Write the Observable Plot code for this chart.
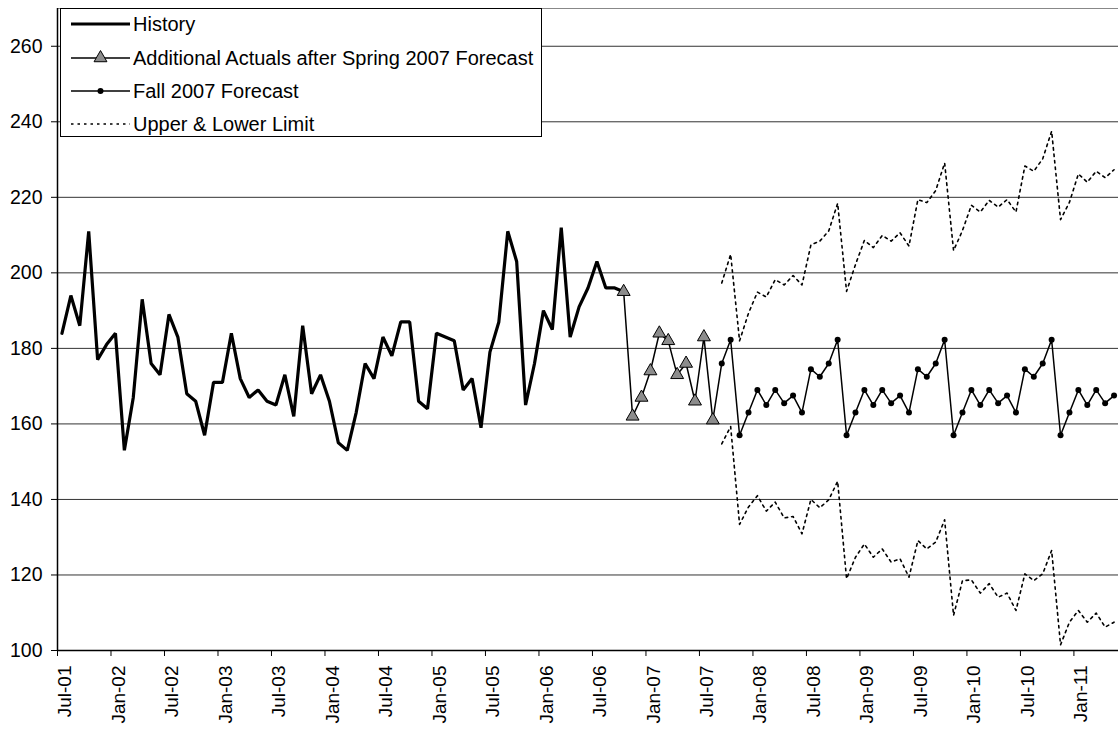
<!DOCTYPE html>
<html>
<head>
<meta charset="utf-8">
<script src="https://cdn.jsdelivr.net/npm/d3@7"></script>
<script src="https://cdn.jsdelivr.net/npm/@observablehq/plot@0.6"></script>
<style>
  html, body { margin: 0; padding: 0; background: #fff; }
  #wrap { position: relative; width: 1118px; height: 730px; font-family: Arial, "Liberation Sans", sans-serif; }
  #legend { position: absolute; left: 60px; top: 8px; }
</style>
</head>
<body>
<div id="wrap"><div id="chart"></div><div id="legend"></div></div>
<script>
// Month index 0 = Jul-01
const xTickLabels = ["Jul-01","Jan-02","Jul-02","Jan-03","Jul-03","Jan-04","Jul-04","Jan-05","Jul-05","Jan-06","Jul-06","Jan-07","Jul-07","Jan-08","Jul-08","Jan-09","Jul-09","Jan-10","Jul-10","Jan-11"];
const xTickIndex = [0,6,12,18,24,30,36,42,48,54,60,66,72,78,84,90,96,102,108,114];
const monthCount = 119;
const yTicks = [100,120,140,160,180,200,220,240,260];
const yGrid = [120,140,160,180,200,220,240,260];
const yMin = 100, yMax = 270;

const historyStart = 0;
const history = [184,194,186,211,177,181,184,153,167,193,176,173,189,183,168,166,157,171,171,184,172,167,169,166,165,173,162,186,168,173,166,155,153,163,176,172,183,178,187,187,166,164,184,183,182,169,172,159,179,187,211,203,165,176,190,185,212,183,191,196,203,196,196,195];

const actualsStart = 63;
const actuals = [195,162,167,174,184,182,173,176,166,183,161];

const forecastStart = 73;
const forecast = [161,176,182.3,
  157,163,169,165,169,165.5,167.5,163,174.5,172.5,176,182.3,
  157,163,169,165,169,165.5,167.5,163,174.5,172.5,176,182.3,
  157,163,169,165,169,165.5,167.5,163,174.5,172.5,176,182.3,
  157,163,169,165,169,165.5,167.5];

const limitStart = 74;
const upper = [197.3,204.9,182,189.3,194.9,193.6,198.2,196.8,199.3,196.8,207.4,208.4,211.1,218.4,
  195.1,202.2,208.6,206.7,209.9,208.4,210.6,207.1,219.4,218.6,221.8,229.1,
  205.9,211.2,217.9,216.1,219.2,217.4,219.4,216.1,228.3,226.9,230.2,237.5,
  214.1,218.7,226.2,224,226.9,225.2,227.3];
const lower = [154.7,159.3,133.4,138,141,136.9,139.3,135.1,135.5,130.9,140,137.8,139.9,144.8,
  119,124.7,128.2,124.7,126.9,123.4,124.3,119.4,129.1,126.9,128.7,134.6,
  109.3,118.5,118.7,115.2,117.7,114.1,115.2,110.6,120.3,118.5,120.3,126.5,
  101.5,107.5,110.6,107.5,109.9,106.2,107.5];

const toRows = (vals, start) => vals.map((v, k) => ({i: start + k + 0.5, v}));
const hist = toRows(history, historyStart);
const act = toRows(actuals, actualsStart);
const fc = toRows(forecast, forecastStart);
const up = toRows(upper, limitStart);
const lo = toRows(lower, limitStart);
const labelMap = new Map(xTickIndex.map((i, k) => [i + 0.5, xTickLabels[k]]));

const YFONT = 19.5, XFONT = 19;
const chart = Plot.plot({
  width: 1118,
  height: 730,
  marginLeft: 57,
  marginRight: 0,
  marginTop: 8,
  marginBottom: 80,
  style: {fontFamily: "Arial, 'Liberation Sans', sans-serif", fontSize: YFONT + "px", background: "#fff", color: "#000"},
  x: {domain: [0, monthCount], label: null},
  y: {domain: [yMin, yMax], label: null},
  marks: [
    Plot.ruleY(yGrid, {stroke: "#333", strokeWidth: 1}),
    Plot.ruleY([yMax], {stroke: "#888", strokeWidth: 1}),
    Plot.axisY(yTicks, {tickSize: 6, tickPadding: 9, fontSize: YFONT, label: null, stroke: "#000"}),
    Plot.axisX(xTickIndex, {tickSize: 6, tickFormat: () => "", label: null, stroke: "#000"}),
    Plot.axisX(xTickIndex.map(i => i + 0.5), {tickSize: 0, tickPadding: 15, tickRotate: -90, fontSize: XFONT, tickFormat: d => labelMap.get(d), label: null, dx: 3}),
    Plot.ruleX([0], {stroke: "#000", strokeWidth: 1.5}),
    Plot.ruleY([yMin], {stroke: "#000", strokeWidth: 1.5}),
    Plot.line(up, {x: "i", y: "v", stroke: "#000", strokeWidth: 1.6, strokeDasharray: "2.5,4"}),
    Plot.line(lo, {x: "i", y: "v", stroke: "#000", strokeWidth: 1.6, strokeDasharray: "2.5,4"}),
    Plot.line(hist, {x: "i", y: "v", stroke: "#000", strokeWidth: 3.2, strokeLinejoin: "miter"}),
    Plot.line(act, {x: "i", y: "v", stroke: "#000", strokeWidth: 1.5}),
    Plot.line(fc, {x: "i", y: "v", stroke: "#000", strokeWidth: 1.5}),
    Plot.dot(fc, {x: "i", y: "v", r: 3, fill: "#000", stroke: "none"}),
    Plot.dot(act, {x: "i", y: "v", r: 4.8, symbol: "triangle", fill: "#8c8c8c", stroke: "#000", strokeWidth: 1})
  ]
});
document.getElementById("chart").appendChild(chart);

// Legend
const legendEntries = ["History", "Additional Actuals after Spring 2007 Forecast", "Fall 2007 Forecast", "Upper & Lower Limit"];
const LFONT = 20;
const lw = 482, lh = 129, rowY = [16, 50, 83, 116];
const lg = d3.select("#legend").append("svg").attr("width", lw).attr("height", lh)
  .style("font-family", "Arial, 'Liberation Sans', sans-serif").style("font-size", LFONT + "px");
lg.append("rect").attr("x", 0.5).attr("y", 0.5).attr("width", lw - 1).attr("height", lh - 1).attr("fill", "#fff").attr("stroke", "#000");
const sx0 = 11, sx1 = 70, tx = 73;
legendEntries.forEach((t, k) => {
  const y = rowY[k];
  const ln = lg.append("line").attr("x1", sx0).attr("x2", sx1).attr("y1", y).attr("y2", y).attr("stroke", "#000");
  if (k === 0) ln.attr("stroke-width", 3.2);
  else if (k === 3) ln.attr("stroke-width", 1.6).attr("stroke-dasharray", "2.5,4");
  else ln.attr("stroke-width", 1.5);
  if (k === 1) lg.append("path").attr("d", d3.symbol(d3.symbolTriangle, 72)()).attr("transform", `translate(${(sx0 + sx1) / 2},${y})`).attr("fill", "#8c8c8c").attr("stroke", "#000");
  if (k === 2) lg.append("circle").attr("cx", (sx0 + sx1) / 2).attr("cy", y).attr("r", 3).attr("fill", "#000");
  lg.append("text").attr("x", tx).attr("y", y).attr("dy", "0.35em").text(t);
});
</script>
</body>
</html>
